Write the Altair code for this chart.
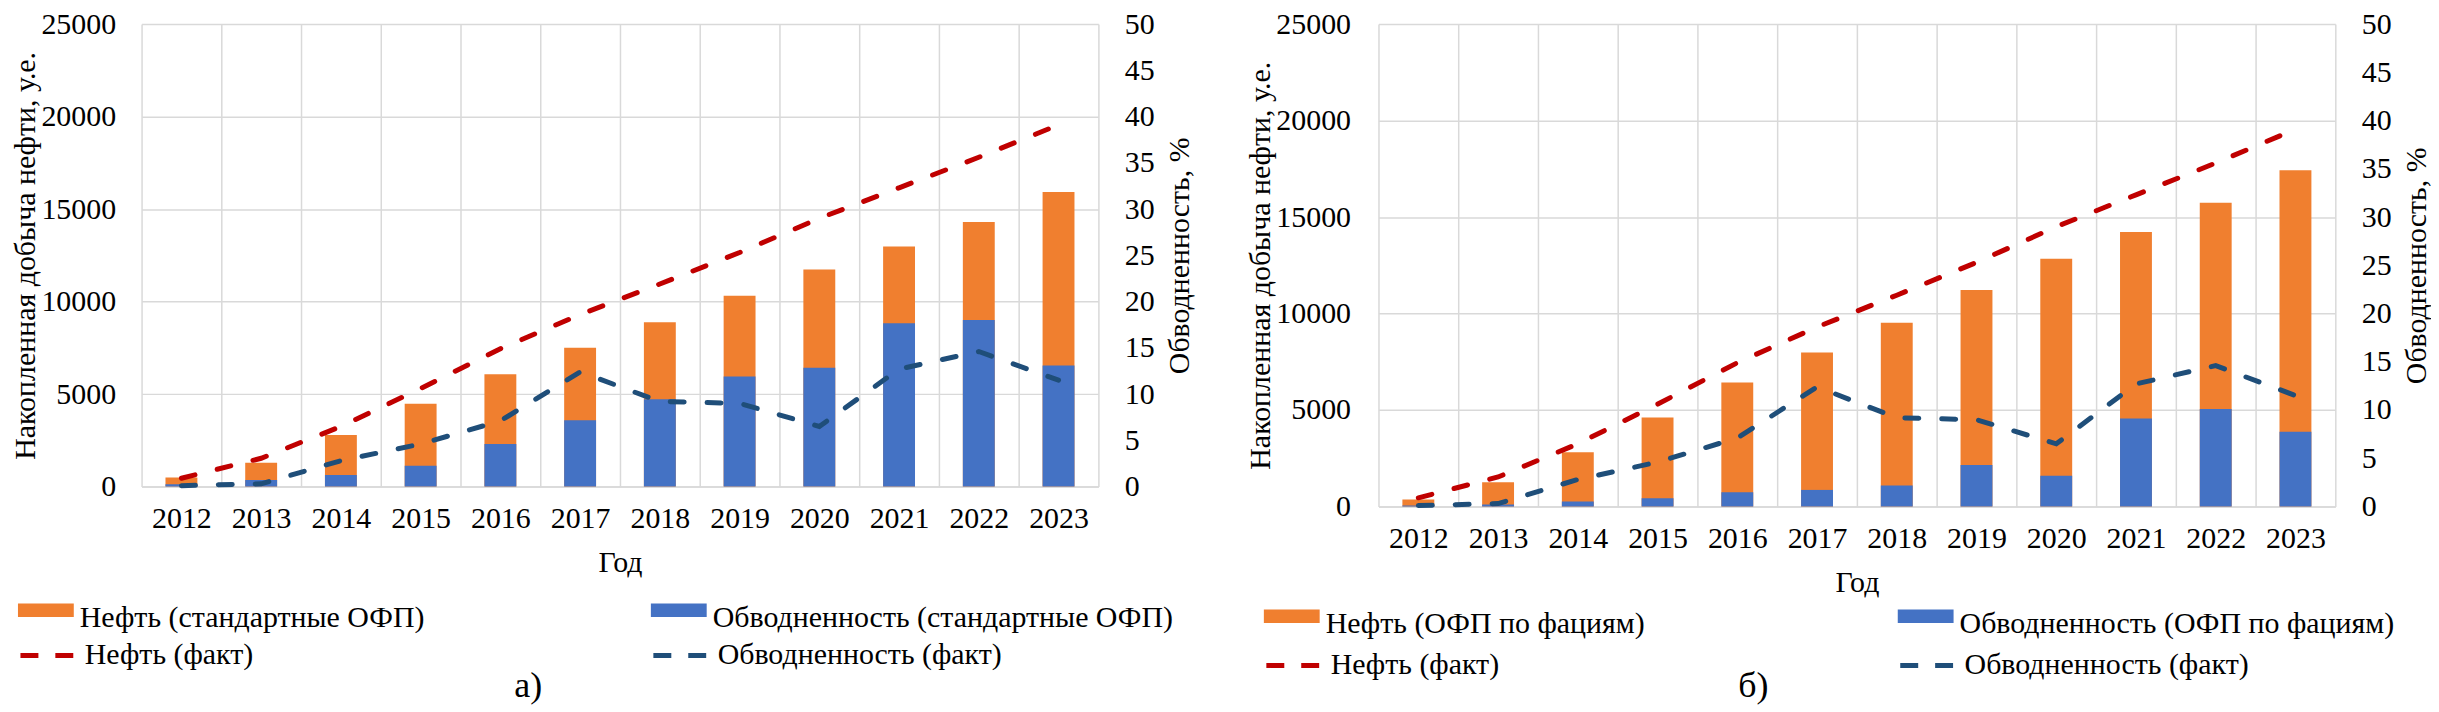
import altair as alt
import pandas as pd

# ---- data ----
years = ["2012", "2013", "2014", "2015", "2016", "2017",
         "2018", "2019", "2020", "2021", "2022", "2023"]

# fact series (same in both panels)
oil_fact = [450, 1530, 3250, 5300, 7450, 9300, 10950, 12650, 14500, 16150, 17800, 19550]
wc_fact = [0.1, 0.3, 2.8, 4.6, 7.1, 12.4, 9.2, 9.0, 6.5, 12.7, 14.6, 11.5]

# panel a) standard relative permeabilities
oil_std = [485, 1290, 2790, 4480, 6075, 7500, 8880, 10320, 11740, 12975, 14300, 15920]
wc_std = [0.26, 0.72, 1.26, 2.26, 4.59, 7.18, 9.44, 11.9, 12.85, 17.66, 18.0, 13.1]

# panel б) relative permeabilities by facies
oil_fac = [362, 1258, 2808, 4618, 6427, 7978, 9528, 11216, 12836, 14232, 15748, 17420]
wc_fac = [0.1, 0.2, 0.52, 0.86, 1.48, 1.72, 2.17, 4.31, 3.2, 9.13, 10.1, 7.75]

left_ticks = [0, 5000, 10000, 15000, 20000, 25000]
right_ticks = [0, 5, 10, 15, 20, 25, 30, 35, 40, 45, 50]

FONT = "Liberation Serif"
FS = 30
ORANGE = "#F07F2F"
BLUE = "#4472C4"
RED = "#C00000"
DBLUE = "#1F4E79"
GRID = "#D9D9D9"
SWATCH = "M-1,-0.52L1,-0.52L1,-0.04L-1,-0.04Z"


def legend(lx, ly, **kw):
    return alt.Legend(orient="none", legendX=lx, legendY=ly, title=None,
                      labelFont=FONT, labelFontSize=FS, labelColor="black",
                      labelLimit=2000, labelOffset=6, padding=0,
                      symbolSize=3136, **kw)


def panel(oil_model, wc_model, oil_label, wc_label, height, lab_pad,
          lx1, lx2, ly1, ly2, tag, tag_dx, tag_off):
    df = pd.DataFrame({"year": years, "oil_model": oil_model, "wc_model": wc_model,
                       "oil_fact": oil_fact, "wc_fact": wc_fact})
    base = alt.Chart(df)
    x = alt.X("year:N", sort=years,
              scale=alt.Scale(paddingInner=0, paddingOuter=0),
              axis=alt.Axis(title="Год", labelAngle=0, tickBand="extent", grid=True,
                            gridColor=GRID, gridWidth=1.5, domainColor=GRID,
                            domainWidth=1.5, ticks=False, labelPadding=17,
                            titlePadding=14))
    bars_oil = base.transform_calculate(s=f"'{oil_label}'").mark_bar(
        width=alt.RelativeBandSize(0.4)).encode(
        x=x,
        y=alt.Y("oil_model:Q", scale=alt.Scale(domain=[0, 25000], nice=False),
                axis=alt.Axis(orient="left", values=left_ticks, format="d",
                              title="Накопленная добыча нефти, у.е.", grid=True,
                              gridColor=GRID, gridWidth=1.5, domain=False,
                              ticks=False, labelPadding=lab_pad, titlePadding=0)),
        color=alt.Color("s:N", scale=alt.Scale(range=[ORANGE]),
                        legend=legend(lx1, ly1, symbolType=SWATCH,
                                      symbolStrokeWidth=0)))
    bars_wc = base.transform_calculate(s=f"'{wc_label}'").mark_bar(
        width=alt.RelativeBandSize(0.4)).encode(
        x=x,
        y=alt.Y("wc_model:Q", scale=alt.Scale(domain=[0, 50], nice=False),
                axis=alt.Axis(orient="right", values=right_ticks, format="d",
                              title="Обводненность, %", grid=False, domain=False,
                              ticks=False, labelPadding=26, titlePadding=10,
                              titleAngle=270, titleBaseline="top")),
        color=alt.Color("s:N", scale=alt.Scale(range=[BLUE]),
                        legend=legend(lx2, ly1, symbolType=SWATCH,
                                      symbolStrokeWidth=0)))
    line_oil = base.transform_calculate(s="'Нефть (факт)'").mark_line(
        strokeDash=[14, 23], strokeWidth=5, strokeCap="round").encode(
        x=x,
        y=alt.Y("oil_fact:Q", scale=alt.Scale(domain=[0, 25000], nice=False), axis=None),
        color=alt.Color("s:N", scale=alt.Scale(range=[RED]),
                        legend=legend(lx1, ly2, symbolType="stroke",
                                      symbolStrokeWidth=5, symbolDash=[18, 17])))
    line_wc = base.transform_calculate(s="'Обводненность (факт)'").mark_line(
        strokeDash=[14, 23], strokeWidth=5, strokeCap="round").encode(
        x=x,
        y=alt.Y("wc_fact:Q", scale=alt.Scale(domain=[0, 50], nice=False), axis=None),
        color=alt.Color("s:N", scale=alt.Scale(range=[DBLUE]),
                        legend=legend(lx2, ly2, symbolType="stroke",
                                      symbolStrokeWidth=5, symbolDash=[18, 17])))
    return alt.layer(bars_oil, bars_wc, line_oil, line_wc).resolve_scale(
        y="independent", color="independent").resolve_legend(
        color="independent").properties(
        width=960, height=height,
        title=alt.TitleParams(text=tag, orient="bottom", anchor="middle", frame="group",
                              dx=tag_dx, offset=tag_off, font=FONT, fontSize=36,
                              fontWeight="normal", color="black",
                              baseline="alphabetic"))


pa = panel(oil_std, wc_std, "Нефть (стандартные ОФП)", "Обводненность (стандартные ОФП)",
           464, 26, -124, 511, 568, 603, "а)", -92, 26)
pb = panel(oil_fac, wc_fac, "Нефть (ОФП по фациям)", "Обводненность (ОФП по фациям)",
           484, 28, -115, 521, 574, 613, "б)", -104, 16)

chart = alt.hconcat(pa, pb, spacing=52).properties(
    padding={"left": 3, "top": 0, "right": 0, "bottom": 0}
).configure(font=FONT).configure_axis(
    labelFont=FONT, titleFont=FONT, labelFontSize=FS, titleFontSize=FS,
    labelColor="black", titleColor="black", titleFontWeight="normal"
).configure_view(stroke=None)

chart.save("out.html", embed_options={"renderer": "svg", "actions": False})
